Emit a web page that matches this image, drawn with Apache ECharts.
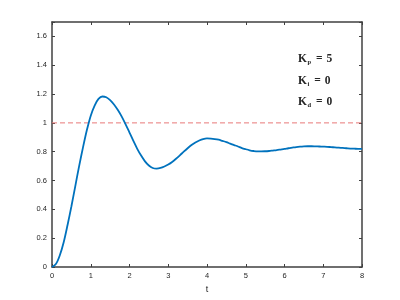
<!DOCTYPE html>
<html>
<head>
<meta charset="utf-8">
<script src="https://cdn.jsdelivr.net/npm/echarts@6/dist/echarts.min.js"></script>
<style>html,body{margin:0;padding:0;background:#fff}#c{width:400px;height:300px}</style>
</head>
<body>
<div id="c"></div>
<script>
// Step response samples (t = 0, 0.1, ..., 8.0)
var tValues = [0,0.1,0.2,0.3,0.4,0.5,0.6,0.7,0.8,0.9,1.0,1.1,1.2,1.3,1.4,1.5,1.6,1.7,1.8,1.9,2.0,2.1,2.2,2.3,2.4,2.5,2.6,2.7,2.8,2.9,
  3.0,3.1,3.2,3.3,3.4,3.5,3.6,3.7,3.8,3.9,4.0,4.1,4.2,4.3,4.4,4.5,4.6,4.7,4.8,4.9,5.0,5.1,5.2,5.3,5.4,5.5,5.6,5.7,5.8,5.9,
  6.0,6.1,6.2,6.3,6.4,6.5,6.6,6.7,6.8,6.9,7.0,7.1,7.2,7.3,7.4,7.5,7.6,7.7,7.8,7.9,8.0];
var yValues = [0,0.02,0.08,0.17,0.29,0.42,0.56,0.70,0.83,0.95,1.05,1.12,1.166,1.183,1.178,1.158,1.128,1.089,1.043,0.99,0.933,0.875,0.82,0.773,0.733,0.704,0.687,0.683,0.687,0.697,
  0.711,0.729,0.751,0.775,0.80,0.824,0.846,0.864,0.878,0.888,0.892,0.891,0.888,0.883,0.875,0.867,0.856,0.846,0.836,0.825,0.817,0.81,0.805,0.802,0.802,0.803,0.805,0.808,0.811,0.815,
  0.819,0.824,0.828,0.832,0.835,0.837,0.838,0.838,0.837,0.836,0.835,0.834,0.832,0.83,0.828,0.826,0.824,0.822,0.821,0.82,0.82];
var refT = [0, 8];
var refY = [1, 1];
var yTickLabels = ['0','0.2','0.4','0.6','0.8','1','1.2','1.4','1.6'];
var gains = [['p','5'],['i','0'],['d','0']];

var axisColor = '#404040';
var chart = echarts.init(document.getElementById('c'), null, {renderer:'canvas'});
var resp = tValues.map(function(t,i){return [t, yValues[i]];});
var ref = refT.map(function(t,i){return [t, refY[i]];});
var txt = gains.map(function(g){return '{b|K}{s|' + g[0] + '}{e|=}{b|' + g[1] + '}';}).join('\n');

var common = {
  min:0, axisLine:{show:true,onZero:false,lineStyle:{color:axisColor,width:1.5}},
  axisTick:{show:true,inside:true,length:3,lineStyle:{color:axisColor,width:1}},
  splitLine:{show:false}
};
var serif = 'Liberation Serif';
chart.setOption({
  animation:false,
  grid:{left:52,right:38,top:22,bottom:33,containLabel:false},
  xAxis:[
    Object.assign({}, common, {type:'value',max:8,interval:1,position:'bottom',
      name:'t',nameLocation:'middle',nameGap:11,nameTextStyle:{color:'#262626',fontSize:9,fontFamily:'Liberation Sans'},
      axisLabel:{color:'#262626',fontSize:7.5,margin:5,fontFamily:'Liberation Sans'}}),
    Object.assign({}, common, {type:'value',max:8,interval:1,position:'top',axisLabel:{show:false}})
  ],
  yAxis:[
    Object.assign({}, common, {type:'value',max:1.7,interval:0.2,position:'left',
      axisLabel:{color:'#262626',fontSize:7.5,margin:5,fontFamily:'Liberation Sans',
        formatter:function(v){var i=Math.round(v/0.2);return yTickLabels[i]||'';}}}),
    Object.assign({}, common, {type:'value',max:1.7,interval:0.2,position:'right',axisLabel:{show:false}})
  ],
  series:[
    {type:'line',data:ref,symbol:'none',lineStyle:{color:'#e87878',width:1,type:[5,3]},z:1},
    {type:'line',data:resp,symbol:'none',smooth:0.3,lineStyle:{color:'#0072BD',width:1.8},z:2}
  ],
  graphic:[{
    type:'text',left:298,top:53,
    style:{
      text:txt,
      rich:{
        b:{fontFamily:serif,fontWeight:'bold',fontSize:11.5,fill:'#262626',lineHeight:21.5},
        e:{fontFamily:serif,fontWeight:'bold',fontSize:11.5,fill:'#262626',lineHeight:21.5,padding:[0,4,0,5]},
        s:{fontFamily:serif,fontWeight:'bold',fontSize:6.5,fill:'#262626',lineHeight:21.5,padding:[6,0,0,0.5]}
      }
    }
  }]
});
</script>
</body>
</html>
